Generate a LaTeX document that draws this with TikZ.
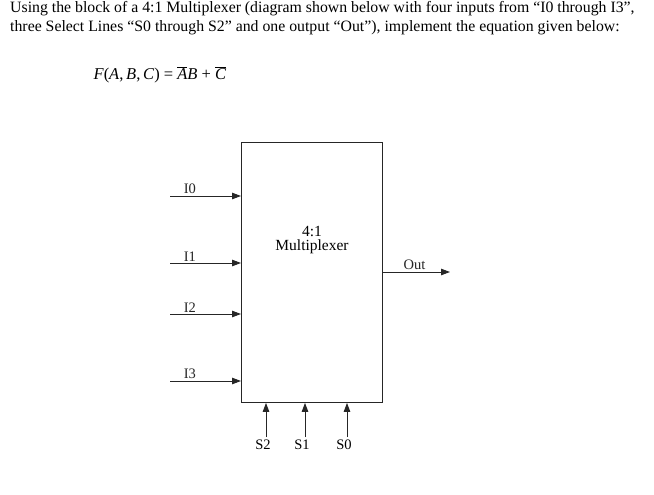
\documentclass[tikz,border=0pt]{standalone}
\usepackage{fontspec}
\setmainfont{Liberation Serif}
\usetikzlibrary{arrows.meta, positioning}

\newcommand{\barit}[1]{$\overline{\mbox{\itshape #1}}$}

\begin{document}
\begin{tikzpicture}[x=1pt, y=-1pt,
    % question text style
    question/.style={
        anchor=north west,
        align=left,
        inner sep=0pt,
        font=\fontsize{15.8}{19}\selectfont
    },
    % multiplexer block style
    muxblock/.style={
        rectangle,
        draw=black!85,
        line width=0.9pt,
        minimum width=141pt,
        minimum height=260pt,
        anchor=north west
    },
    sigarrow/.style={
        -{Triangle[length=9pt,width=6.5pt]},
        line width=0.9pt,
        black!85
    },
    siglabel/.style={
        font=\fontsize{14.5}{15}\selectfont,
        inner sep=1.5pt
    }
]
\useasboundingbox[fill=white] (0,0) rectangle (654,495);

% === Question text ===
\node[question] (qtext) at (10,1) {Using the block of a 4:1 Multiplexer (diagram shown below with four inputs from ``I0 through I3'',\\
three Select Lines ``S0 through S2'' and one output ``Out''), implement the equation given below:};
\node[anchor=west, font=\fontsize{16.5}{19}\selectfont] (eqn) at (90,75) {\textit{F}(\textit{A},\,\textit{B},\,\textit{C}) = \barit{A}\textit{B} + \barit{C}};

% === Multiplexer block ===
\node[muxblock] (mux) at (241,142) {};
\node[siglabel, align=center, font=\fontsize{15.5}{14}\selectfont] (muxname) at (312,240) {4:1\\Multiplexer};

% === Inputs ===
\foreach \idx/\y in {0/196, 1/263, 2/314, 3/381} {
    \coordinate (in\idx) at (170,\y);
    \draw[sigarrow] (in\idx) -- node[siglabel, above, pos=0.28] {I\idx} (mux.west |- in\idx);
}

% === Select lines ===
\foreach \idx/\x in {2/266, 1/305, 0/347} {
    \coordinate (sel\idx) at (\x,437);
    \draw[sigarrow] (sel\idx) -- (sel\idx |- mux.south);
    \node[siglabel, below=1.5pt of sel\idx, xshift=-3pt] (sellab\idx) {S\idx};
}

% === Output ===
\coordinate (outend) at (450,272);
\draw[sigarrow] (mux.east |- outend) -- node[siglabel, above, pos=0.47] {Out} (outend);

\end{tikzpicture}
\end{document}
